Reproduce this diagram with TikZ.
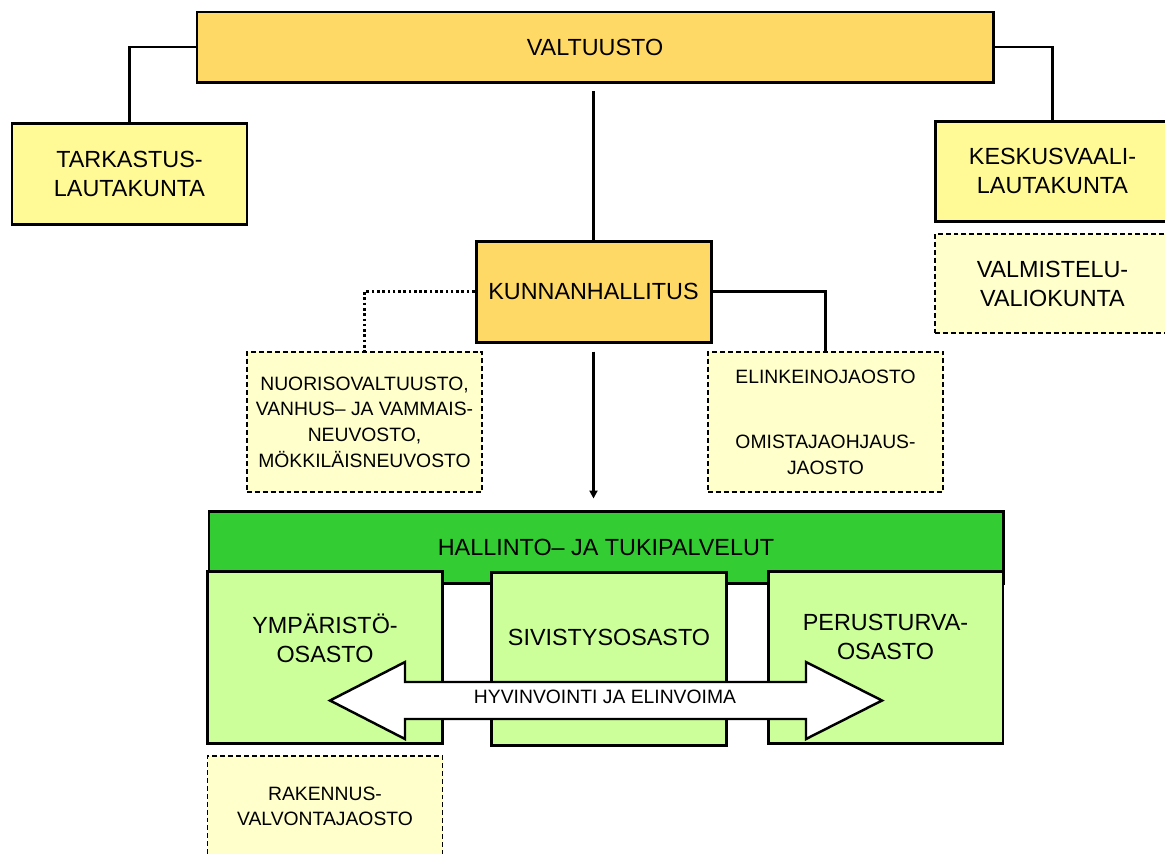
\documentclass[tikz,border=0pt]{standalone}
\usepackage{fontspec}
\setmainfont{Liberation Sans}
\usetikzlibrary{arrows.meta}
\definecolor{gold}{HTML}{FFD966}
\definecolor{lemon}{HTML}{FFFA96}
\definecolor{cream}{HTML}{FFFFCC}
\definecolor{leafgreen}{HTML}{33CC33}
\definecolor{palegreen}{HTML}{CCFF99}

\begin{document}
\begin{tikzpicture}[x=0.02cm, y=-0.02cm,
	bigtext/.style={font=\fontsize{13.3}{16.5}\selectfont, align=center},
	smalltext/.style={font=\fontsize{11}{14.6}\selectfont, align=center},
	box/.style={draw, line width=1.7pt, inner sep=0pt},
	dashbox/.style={draw, line width=0.85pt, dash pattern=on 2.8pt off 1.7pt, fill=cream, inner sep=0pt},
	deptbox/.style={box, fill=palegreen, minimum width=4.7cm},
	conn/.style={line width=1.3pt},
	dotconn/.style={line width=1.5pt, dash pattern=on 1.5pt off 1.5pt}]
					\def\px{0.02cm}
					\useasboundingbox (0,0) rectangle (1165,853);
					\clip (0,0) rectangle (1165,853);

					% top level
					\node[box, fill=gold, minimum width=796*\px, minimum height=70*\px, bigtext] (valtuusto) at (595,47) {VALTUUSTO};
					\node[box, fill=lemon, minimum width=235*\px, minimum height=101*\px, bigtext] (tarkastus) at (129.5,173.5) {TARKASTUS-\\LAUTAKUNTA};
					\node[box, fill=lemon, minimum width=235*\px, minimum height=100*\px, bigtext] (keskusvaali) at (1052.5,171) {KESKUSVAALI-\\LAUTAKUNTA};
					\node[dashbox, minimum width=235*\px, minimum height=99*\px, bigtext] (valmistelu) at (1052.5,283.5) {VALMISTELU-\\VALIOKUNTA};

					\draw[conn] (valtuusto.west) -| (tarkastus.north);
					\draw[conn] (valtuusto.east) -| (keskusvaali.north);

					% kunnanhallitus
					\node[box, fill=gold, minimum width=235*\px, minimum height=101*\px, bigtext] (kunnan) at (593.5,291.5) {KUNNANHALLITUS};
					\draw[conn, shorten <=0.16cm] (kunnan.north |- valtuusto.south) -- (kunnan.north);

					\node[dashbox, minimum width=235*\px, minimum height=140*\px, smalltext] (nuoriso) at (364.5,422) {NUORISOVALTUUSTO,\\VANHUS– JA VAMMAIS-\\NEUVOSTO,\\MÖKKILÄISNEUVOSTO};
					\node[dashbox, minimum width=235*\px, minimum height=140*\px, smalltext] (elinkeino) at (825.5,422) {ELINKEINOJAOSTO\\[22.5pt]OMISTAJAOHJAUS-\\JAOSTO};

					\draw[dotconn] (kunnan.west) -| (nuoriso.north);
					\draw[conn] (kunnan.east) -| (elinkeino.north);

					% organisation
					\node[box, fill=leafgreen, minimum width=794*\px, minimum height=72*\px, bigtext] (hallinto) at (606,547) {HALLINTO– JA TUKIPALVELUT};
					\draw[conn, -{Triangle[length=4.5pt, width=4.5pt]}, shorten <=0.16cm, shorten >=0.22cm] (kunnan.south) -- (kunnan.south |- hallinto.north);

					\node[deptbox, minimum height=172*\px] (ymparisto) at (325,657) {};
					\node[deptbox, minimum height=173*\px] (sivistys) at (609,658.5) {};
					\node[deptbox, minimum height=172*\px] (perusturva) at (885.5,657) {};
					\node[bigtext] (ymparisto-txt) at (325,638) {YMPÄRISTÖ-\\OSASTO};
					\node[bigtext] (sivistys-txt) at (609,637) {SIVISTYSOSASTO};
					\node[bigtext] (perusturva-txt) at (885.5,637) {PERUSTURVA-\\OSASTO};

					% double arrow
					\draw[line width=1.4pt, fill=white, line join=miter] (330,700.5) -- (405,662) -- (405,682) -- (806,682) -- (806,662) -- (882,700.5) -- (806,739) -- (806,719) -- (405,719) -- (405,739) -- cycle;
					\node[smalltext] (hyvinvointi) at (605,697) {HYVINVOINTI JA ELINVOIMA};

					\node[dashbox, minimum width=235*\px, minimum height=101*\px, smalltext] (rakennus) at (325,806.5) {RAKENNUS-\\VALVONTAJAOSTO};

\end{tikzpicture}
\end{document}
